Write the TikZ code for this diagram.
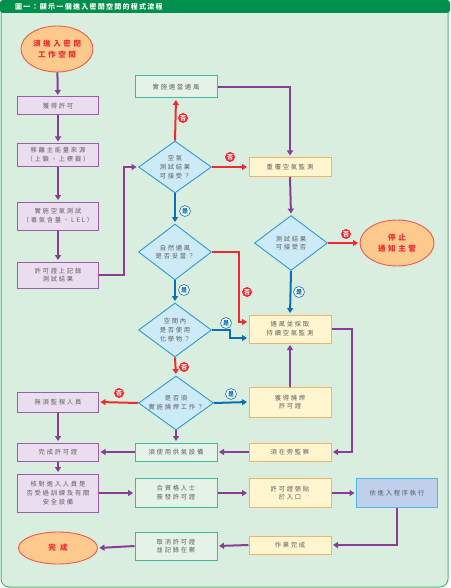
\documentclass[tikz,border=0pt]{standalone}
\usepackage{fontspec}
\setmainfont{Noto Sans CJK TC}
\newfontfamily\cjk[LetterSpace=28]{Noto Sans CJK TC}
\newfontfamily\cjkh[LetterSpace=18]{Noto Sans CJK TC}
\newfontfamily\cjke[LetterSpace=35]{Noto Sans CJK TC}
\usetikzlibrary{shapes.geometric,arrows.meta,calc}
\definecolor{bg}{HTML}{D9EEDE}
\definecolor{head}{HTML}{008F4C}
\definecolor{panel}{HTML}{4DB57A}
\definecolor{pur}{HTML}{8A3D96}
\definecolor{red1}{HTML}{EE2B2F}
\definecolor{blu}{HTML}{0B6FB5}
\definecolor{dfill}{HTML}{CDEAF7}
\definecolor{ddraw}{HTML}{2D9AD4}
\definecolor{lavf}{HTML}{EBDDF0}
\definecolor{lavd}{HTML}{9B5EA9}
\definecolor{teald}{HTML}{3DB9A0}
\definecolor{tealf}{HTML}{E4F2E8}
\definecolor{yelf}{HTML}{FFF5CF}
\definecolor{yeld}{HTML}{F4B168}
\definecolor{ellf}{HTML}{FDC98C}
\definecolor{elld}{HTML}{EE5B4B}
\definecolor{procf}{HTML}{BFCFEC}
\definecolor{procd}{HTML}{4DB9EA}
\definecolor{txt}{HTML}{5E5E5E}
\tikzset{
  base/.style={rectangle, inner sep=1pt, line width=1pt, align=center, text=txt,
    font=\cjk\fontsize{6.3}{8.8}\selectfont},
  lav/.style={base, fill=lavf, draw=lavd, minimum width=81pt},
  teal/.style={base, fill=tealf, draw=teald, minimum width=82pt},
  yel/.style={base, fill=yelf, draw=yeld, minimum width=82pt},
  procbox/.style={base, fill=procf, draw=procd, minimum width=81pt},
  dia/.style={diamond, shape aspect=1.4, inner sep=0pt, fill=dfill, draw=ddraw, line width=0.9pt,
    align=center, text=txt, font=\cjk\fontsize{6.3}{8.8}\selectfont, minimum width=73pt},
  ell/.style={ellipse, inner sep=0pt, fill=ellf, draw=elld, line width=0.9pt, align=center,
    text=red1, font=\cjke\fontsize{7.5}{11}\selectfont\bfseries},
  conn/.style={line width=2pt, -{Triangle[length=5pt,width=6pt]}, shorten >=1.5pt},
  parr/.style={conn, draw=pur},
  rarr/.style={conn, draw=red1},
  barr/.style={conn, draw=blu},
  nolab/.style={circle, fill=red1, draw=white, line width=0.5pt, inner sep=1pt, text=white,
    font=\fontsize{6}{6}\selectfont\bfseries},
  yeslab/.style={circle, fill=white, draw=blu, line width=0.6pt, inner sep=1pt, text=blu,
    font=\fontsize{6}{6}\selectfont\bfseries},
}
\begin{document}
\begin{tikzpicture}[x=1pt,y=-1pt]
\useasboundingbox (0,0) rectangle (450,588);
% background
\filldraw[fill=bg, draw=panel, line width=1pt, rounded corners=8] (1,4) rectangle (448,587);
\fill[head, rounded corners=3] (0,0) rectangle (450,13);
\node[anchor=west, text=white, font=\cjkh\fontsize{7}{8}\selectfont\bfseries, inner sep=0] (title) at (15,7) {圖一：顯示一個進入密閉空間的程式流程};

% left column
\node[ell, minimum width=72pt, minimum height=46pt] (start) at (57,49) {須進入密閉\\工作空間};
\node[lav, minimum height=18pt] (get) at (58,106) {獲得許可};
\node[lav, minimum height=23pt] (iso) at (58,155) {移離主能量來源\\（上鎖、上標籤）};
\node[lav, minimum height=28pt] (test) at (58,216) {實施空氣測試\\（毒氣含量、LEL）};
\node[lav, minimum height=26pt] (rec) at (58,275) {許可證上記錄\\測試結果};
\node[lav, minimum height=20pt] (nomon) at (58,402) {無須監視人員};
\node[lav, minimum height=18pt] (comp) at (58,452) {完成許可證};
\node[lav, minimum height=38pt] (check) at (58,493) {核對進入人員是\\否受過訓練及有關\\安全設備};
\node[ell, minimum width=79pt, minimum height=32pt] (fin) at (58,548) {完 成};

% middle column
\node[teal, minimum height=22pt] (vent) at (176,87) {實施適當通風};
\node[dia, minimum height=52pt] (d1) at (175,167) {空氣\\測試結果\\可接受？};
\node[dia, minimum height=56pt] (d2) at (175,252) {自然通風\\是否妥當？};
\node[dia, minimum height=54pt] (d3) at (175,330) {空間內\\是否使用\\化學物？};
\node[dia, minimum height=54pt, minimum width=74pt] (d4) at (176,403) {是否須\\實施燒焊工作？};
\node[teal, minimum height=18pt] (air) at (176,452) {須使用供氣設備};
\node[teal, minimum height=29pt] (qual) at (176,493) {合資格人士\\簽發許可證};
\node[teal, minimum height=28pt] (cancel) at (176,546) {取消許可證\\並記錄在案};

% right column
\node[yel, minimum height=19pt] (rep) at (290,167) {重覆空氣監測};
\node[dia, minimum height=55pt] (d5) at (291,243) {測試結果\\可接受否};
\node[ell, minimum width=74pt, minimum height=46pt] (stop) at (397,243) {停止\\通知主管};
\node[yel, minimum height=28pt] (cont) at (290,329) {通風並採取\\持續空氣監測};
\node[yel, minimum height=30pt] (weld) at (290,402) {獲得燒焊\\許可證};
\node[yel, minimum height=18pt] (watch) at (290,452) {須在旁監察};
\node[yel, minimum height=29pt] (post) at (290,493) {許可證張貼\\於入口};
\node[procbox, minimum height=29pt] (proc) at (397,493) {依進入程序執行};
\node[yel, minimum height=18pt] (done) at (290,545) {作業完成};

% connectors
\draw[parr] (start) -- (get);
\draw[parr] (get) -- (iso);
\draw[parr] (iso) -- (test);
\draw[parr] (test) -- (rec);
\draw[parr] (rec.east) -- ++(25,0) |- (d1.west);
\draw[rarr] (d1.north) -- (vent.south);
\draw[parr] (vent.east) -| (rep.north);
\draw[rarr] (d1.east) -- (rep.west);
\draw[parr] (rep.south) -- (d5.north);
\draw[rarr] (d5.east) -- (stop.west);
\draw[barr] (d5.south) -- (cont.north);
\draw[barr] (d1.south) -- (d2.north);
\draw[rarr] (d2.east) -- ++(27,0) |- ($(cont.west)+(0,-7)$);
\draw[barr] (d2.south) -- (d3.north);
\draw[barr] (d3.east) -- ++(18,0) |- ($(cont.west)+(0,9)$);
\draw[rarr] (d3.south) -- (d4.north);
\draw[rarr] (d4.west) -- (nomon.east);
\draw[barr] (d4.east) -- (weld.west);
\draw[parr] (weld.north) -- (cont.south);
\draw[parr] (cont.east) -- ++(20,0) |- (watch.east);
\draw[parr] (watch.west) -- (air.east);
\draw[parr] (d4.south) -- (air.north);
\draw[parr] (air.west) -- (comp.east);
\draw[parr] (nomon.south) -- (comp.north);
\draw[parr] (comp.south) -- (check.north);
\draw[parr] (check.east) -- (qual.west);
\draw[parr] (qual.east) -- (post.west);
\draw[parr] (post.east) -- (proc.west);
\draw[parr] (proc.south) |- (done.east);
\draw[parr] (done.west) -- (cancel.east);
\draw[parr] (cancel.west) -- (fin.east);

% labels
\node[nolab] (n1) at (183,118) {否};
\node[nolab] (n2) at (230,157) {否};
\node[nolab] (n3) at (346,234) {否};
\node[yeslab] (y1) at (299,292) {是};
\node[yeslab] (y2) at (185,211) {是};
\node[nolab] (n4) at (247,292) {否};
\node[yeslab] (y3) at (184,290) {是};
\node[yeslab] (y4) at (226,323) {是};
\node[nolab] (n5) at (184,367) {否};
\node[nolab] (n6) at (119,393) {否};
\node[yeslab] (y5) at (231,394) {是};
\end{tikzpicture}
\end{document}
